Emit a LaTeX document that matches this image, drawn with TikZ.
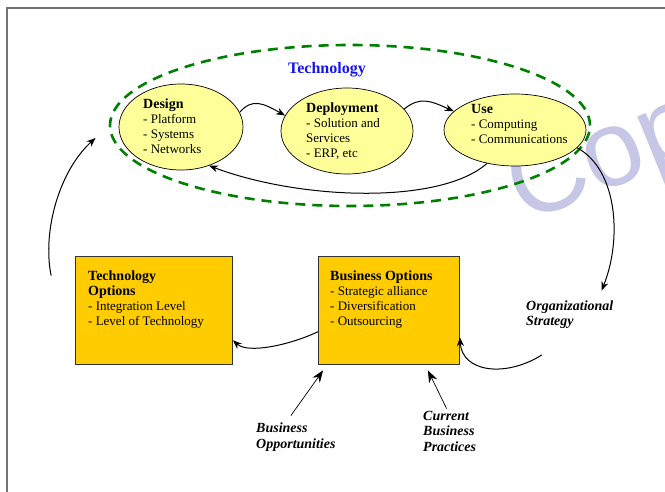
\documentclass[tikz,border=0pt]{standalone}
\usepackage{fontspec}
\setmainfont{Liberation Serif}
\newfontfamily\wmfont{Liberation Sans}
\usetikzlibrary{arrows.meta,shapes.geometric}
\definecolor{ellfill}{HTML}{FFFF99}
\definecolor{boxfill}{HTML}{FFCC00}
\definecolor{dgreen}{HTML}{008000}
\definecolor{wmcol}{RGB}{198,198,230}
\definecolor{techblue}{RGB}{20,20,240}
\newcommand{\lines}[1]{\begin{tabular}[t]{@{}l@{}}#1\end{tabular}}
\newcommand{\hd}[1]{{\fontsize{14}{14}\selectfont\bfseries #1}}
\begin{document}
\begin{tikzpicture}[x=1pt,y=-1pt,
  frame/.style={draw=black!55,line width=1.6pt},
  techell/.style={ellipse,draw=dgreen,line width=2.6pt,dash pattern=on 10pt off 7pt,inner sep=0},
  stage/.style={ellipse,draw=black,line width=0.7pt,fill=ellfill,inner sep=0},
  optbox/.style={rectangle,draw=black!80,line width=0.8pt,fill=boxfill,inner sep=0},
  etext/.style={anchor=base west,inner sep=0,font=\fontsize{13}{14.7}\selectfont},
  btext/.style={anchor=base west,inner sep=0,font=\fontsize{13}{15.3}\selectfont},
  itlabel/.style={anchor=base west,inner sep=0,font=\fontsize{14}{16}\selectfont\bfseries\itshape},
  conn/.style={draw=black,line width=1pt,-{Stealth[length=9pt,width=7pt]}},
  thin/.style={draw=black,line width=0.7pt,-{Stealth[length=12pt,width=9pt]}}
]
\useasboundingbox (0,0) rectangle (665,492);
\begin{scope}
\clip (0,0) rectangle (665,492);
\node[anchor=base west,rotate=22,text=wmcol,inner sep=0,font=\wmfont\fontsize{108}{108}\selectfont] (wm) at (524,224) {Copy};
\end{scope}
\draw[frame] (7,492) -- (7,8) -- (665,8);

\node[techell,minimum width=480pt,minimum height=161pt] (tech) at (350,125.5) {};
\node[anchor=base,text=techblue,inner sep=0,font=\fontsize{16}{18}\selectfont\bfseries] (techlbl) at (327,74) {Technology};

\node[stage,minimum width=124pt,minimum height=86pt] (des) at (181,127) {};
\node[stage,minimum width=132pt,minimum height=86pt] (dep) at (347,131) {};
\node[stage,minimum width=142pt,minimum height=72pt] (use) at (515,130) {};

\node[etext] (destxt) at (143,109) {\lines{\hd{Design}\\- Platform\\- Systems\\- Networks}};
\node[etext] (deptxt) at (306,113) {\lines{\hd{Deployment}\\- Solution and\\Services\\- ERP, etc}};
\node[etext] (usetxt) at (471,114) {\lines{\hd{Use}\\- Computing\\- Communications}};

\node[optbox,minimum width=157pt,minimum height=108pt] (to) at (154,310) {};
\node[optbox,minimum width=141pt,minimum height=108pt] (bo) at (389,310) {};

\node[btext] (totxt) at (88,280) {\lines{\hd{Technology}\\\hd{Options}\\- Integration Level\\- Level of Technology}};
\node[btext] (botxt) at (330,280) {\lines{\hd{Business Options}\\- Strategic alliance\\- Diversification\\- Outsourcing}};

\node[itlabel] (org) at (526,310) {\lines{Organizational\\Strategy}};
\node[itlabel] (bopp) at (256,432) {\lines{Business\\Opportunities}};
\node[itlabel] (cbp) at (423,420) {\lines{Current\\Business\\Practices}};

% cycle arrows
\draw[conn] (des.14) .. controls (252,98) and (263,103) .. (dep.166);
\draw[conn] (dep.21) .. controls (420,96) and (431,101) .. (use.163);
\draw[conn] (use.230) .. controls (440,205) and (300,200) .. (des.306);
\draw[conn] (use.344) .. controls (618,170) and (622,240) .. ([shift={(-12pt,8pt)}]org.north east);
\draw[conn] ([shift={(-24pt,-20pt)}]to.north west) .. controls (42,230) and (60,170) .. ([xshift=-16pt]tech.183);
\draw[conn] (bo.197) .. controls (290,345) and (248,354) .. (to.-21);
\draw[conn] ([shift={(-28pt,-24pt)}]org.south) .. controls (505,378) and (462,372) .. (bo.-21);
\draw[thin] ([shift={(-5pt,5pt)}]bopp.north) -- ([shift={(5pt,-6pt)}]bo.south west);
\draw[thin] ([xshift=-3pt]cbp.north) -- ([shift={(-32pt,-6pt)}]bo.south east);
\end{tikzpicture}
\end{document}
